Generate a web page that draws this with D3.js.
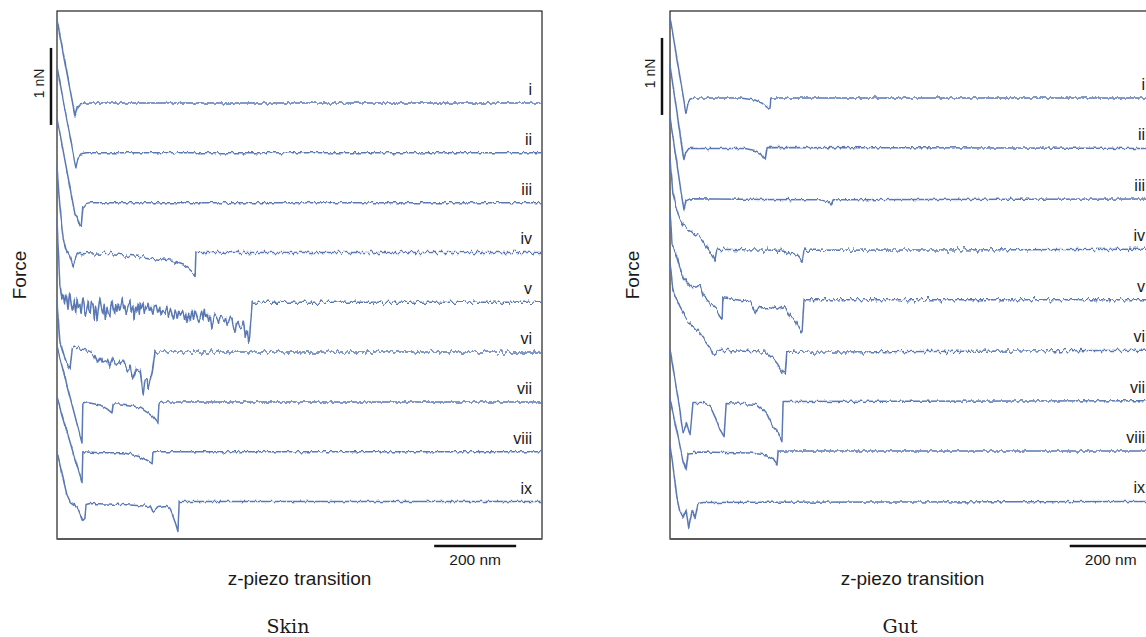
<!DOCTYPE html>
<html>
<head>
<meta charset="utf-8">
<script src="https://cdn.jsdelivr.net/npm/d3@7"></script>
<style>
  body { margin: 0; background: #fff; }
  svg { display: block; }
</style>
</head>
<body>
<svg id="chart" width="1146" height="637"></svg>
<script>
// Force-distance retraction curves, x in nm of z-piezo travel, force in pN
// relative to each curve's own zero-force baseline.
const traceLabels = ["i", "ii", "iii", "iv", "v", "vi", "vii", "viii", "ix"];
const panelTitles = ["Skin", "Gut"];
const xAxisLabel = "z-piezo transition";
const yAxisLabel = "Force";
const xScaleBar = { label: "200 nm", nm: 200 };
const yScaleBar = { label: "1 nN", pN: 1000 };

const skinTraces = [
  [[0,1079],[44,-169],[49,-65],[56,-13],[66,0],[1183,0]],
  [[0,1118],[46,-195],[51,-65],[59,-13],[71,0],[1183,0]],
  [[0,1105],[44,-156],[49,-182],[56,-299],[59,-312],[63,-65],[71,-13],[80,0],[1183,0]],
  [[0,1118],[7,598],[15,182],[22,39],[32,-65],[39,-182],[44,-117],[49,-26],[56,0],[129,-13],
   [203,-52],[283,-117],[312,-169],[332,-260],[337,-286],[339,0],[1183,0]],
  [[0,1066],[7,221],[12,65],[15,91],[18,-20],[21,104],[24,26],[27,-78],[30,65],[32,117],[35,-30],
   [39,-104],[42,13],[45,-156],[49,52],[52,-52],[56,-13],[59,-117],[63,52],[66,-26],[69,-182],
   [73,-52],[76,39],[78,-104],[81,-130],[84,0],[88,-39],[91,-195],[94,-65],[98,-234],[101,-91],
   [105,65],[108,-52],[112,-143],[115,-26],[118,-221],[122,-65],[125,-143],[129,-182],[131,-39],
   [134,26],[137,-91],[141,-169],[143,-52],[146,-130],[150,-13],[153,-117],[156,-65],[159,52],
   [162,-91],[166,-26],[169,-156],[171,-104],[174,-13],[178,26],[181,-117],[185,-39],[188,-208],
   [191,-78],[195,-130],[198,-26],[201,-156],[203,0],[206,-91],[210,-13],[213,-130],[217,-52],
   [222,0],[225,-104],[229,-65],[234,-143],[237,-39],[242,-26],[246,-130],[251,-65],[254,-169],
   [258,-91],[264,-143],[268,-52],[272,-182],[276,-78],[280,-143],[285,-234],[289,-117],
   [293,-195],[297,-91],[301,-169],[307,-104],[311,-221],[314,-143],[317,-260],[321,-156],
   [325,-234],[329,-130],[333,-208],[337,-104],[341,-182],[345,-247],[349,-195],[353,-130],
   [356,-221],[359,-91],[362,-182],[366,-143],[370,-247],[374,-169],[378,-338],[382,-221],
   [386,-156],[390,-195],[394,-273],[399,-182],[403,-208],[407,-260],[411,-195],[415,-299],
   [419,-247],[423,-182],[427,-208],[430,-299],[434,-390],[438,-273],[442,-234],[446,-312],
   [451,-325],[455,-260],[459,-455],[462,-390],[464,-338],[466,-429],[468,-520],[470,-442],
   [473,-234],[476,0],[1183,0]],
  [[0,676],[7,130],[15,0],[22,-130],[32,-208],[37,52],[46,65],[56,39],[73,26],[88,-13],[98,-143],
   [105,-65],[112,-130],[122,-104],[129,-195],[137,-78],[146,-169],[154,-130],[161,-104],
   [171,-234],[178,-169],[185,-325],[193,-208],[203,-234],[207,-429],[210,-533],[215,-338],
   [220,-325],[222,-494],[227,-364],[232,-260],[234,-195],[239,0],[1183,0]],
  [[0,715],[61,-533],[63,-26],[71,-13],[80,-13],[105,-39],[122,-91],[134,-143],[137,-26],[154,-26],
   [178,-39],[203,-78],[222,-143],[234,-195],[246,-273],[249,-13],[259,0],[1183,0]],
  [[0,702],[61,-403],[63,0],[105,-13],[161,-13],[203,-65],[222,-117],[232,-156],[234,0],[1183,0]],
  [[0,637],[24,91],[32,0],[49,-65],[56,-156],[63,-247],[68,-221],[71,-39],[80,-26],[161,-39],
   [227,-65],[234,-143],[242,-104],[246,-78],[268,-65],[276,-104],[283,-195],[290,-299],
   [295,-390],[298,0],[1183,0]]
];

const gutTraces = [
  [[0,1053],[39,-195],[44,-65],[49,-13],[59,0],[171,0],[207,-26],[224,-65],[239,-130],[244,-117],
   [246,0],[1183,0]],
  [[0,1079],[34,-156],[39,-52],[46,0],[183,0],[207,-26],[220,-65],[232,-156],[237,13],[1183,0]],
  [[0,1053],[34,-156],[39,-26],[49,0],[366,-13],[386,-39],[393,-78],[398,-13],[1183,0]],
  [[0,1170],[7,741],[15,546],[24,390],[32,325],[44,273],[54,221],[61,195],[73,156],[81,91],[90,13],
   [98,-39],[105,-91],[110,-156],[115,0],[268,-13],[293,-52],[310,-91],[322,-169],[327,-13],[1183,0]],
  [[0,1144],[5,741],[17,559],[24,429],[32,286],[41,234],[54,156],[66,169],[73,195],[81,39],[90,0],
   [102,-65],[115,-130],[122,-221],[127,-260],[129,26],[163,0],[195,-26],[212,-169],[220,-91],
   [244,-91],[268,-130],[281,-91],[293,-221],[305,-260],[317,-390],[322,-416],[327,0],[1183,0]],
  [[0,1144],[7,780],[17,650],[24,559],[41,390],[49,351],[61,286],[73,221],[85,130],[98,39],
   [105,-65],[115,-26],[122,0],[237,-26],[249,-91],[261,-169],[276,-299],[281,-325],[285,-26],
   [1183,0]],
  [[0,663],[20,13],[32,-416],[41,-286],[49,-442],[56,-26],[81,-26],[98,-65],[105,-156],[115,-273],
   [122,-377],[132,-468],[137,-26],[212,-52],[227,-117],[237,-182],[251,-338],[264,-416],
   [273,-533],[276,-13],[1183,0]],
  [[0,689],[32,-130],[39,-247],[44,-26],[73,-13],[195,-26],[237,-52],[249,-91],[261,-182],[264,0],
   [1183,0]],
  [[0,728],[12,273],[17,52],[24,-117],[32,-208],[39,-117],[46,-338],[54,-117],[61,-221],[68,-26],
   [81,-13],[1183,0]]
];

const svg = d3.select("#chart");
const lineColor = "#5a78b4";
const textColor = "#1a1a1a";
const sans = "'Liberation Sans', Arial, sans-serif";

// Fine trace noise: vertical-only displacement driven by fractal turbulence.
const defs = svg.append("defs");
function addJitter(id, scale, freq, seed) {
  const f = defs.append("filter").attr("id", id)
    .attr("filterUnits", "userSpaceOnUse")
    .attr("x", 0).attr("y", 0).attr("width", 1200).attr("height", 637)
    .attr("color-interpolation-filters", "sRGB");
  f.append("feTurbulence").attr("type", "fractalNoise").attr("baseFrequency", freq)
    .attr("numOctaves", 2).attr("seed", seed).attr("result", "n");
  f.append("feColorMatrix").attr("in", "n").attr("type", "matrix")
    .attr("values", "0 0 0 0 0.5  0 1 0 0 0  0 0 0 0 0  0 0 0 0 1").attr("result", "m");
  f.append("feDisplacementMap").attr("in", "SourceGraphic").attr("in2", "m")
    .attr("scale", scale).attr("xChannelSelector", "R").attr("yChannelSelector", "G");
}
addJitter("jitter", 5, "0.3 0.06", 4);
addJitter("jitterStrong", 9, "0.3 0.06", 9);

const panels = [
  { title: panelTitles[0], traces: skinTraces, left: 57, top: 11, bottom: 539, width: 485,
    base0: 103, spacing: 647, titleX: 288, yLabelX: 20,
    yBar: { x: 51, from: 715 }, xBarStart: 920,
    noise: ["jitter", "jitter", "jitter", "jitterStrong", "jitterStrong", "jitterStrong",
            "jitter", "jitter", "jitter"] },
  { title: panelTitles[1], traces: gutTraces, left: 670, top: 11, bottom: 539, width: 485,
    base0: 98, spacing: 655, titleX: 900, yLabelX: 633,
    yBar: { x: 662, from: 780 }, xBarStart: 975,
    noise: ["jitter", "jitter", "jitter", "jitterStrong", "jitterStrong", "jitterStrong",
            "jitter", "jitter", "jitter"] }
];

panels.forEach(p => {
  const x = d3.scaleLinear().domain([0, 1183]).range([p.left, p.left + p.width]);
  const y = d3.scaleLinear().domain([0, -1000]).range([p.base0, p.base0 + 77]);
  const line = d3.line().x(d => x(d[0])).y(d => y(d[1]));
  const g = svg.append("g");

  // frame
  g.append("rect").attr("x", p.left).attr("y", p.top)
    .attr("width", p.width).attr("height", p.bottom - p.top)
    .attr("fill", "none").attr("stroke", "#222").attr("stroke-width", 1.2);
  g.append("line").attr("x1", p.left).attr("x2", p.left + p.width)
    .attr("y1", p.bottom).attr("y2", p.bottom)
    .attr("stroke", "#5a5a5a").attr("stroke-width", 2);

  // stacked curves, each shifted down by its index
  p.traces.forEach((tr, k) => {
    const shifted = tr.map(([d, f]) => [d, f - k * p.spacing]);
    g.append("path").attr("d", line(shifted))
      .attr("fill", "none").attr("stroke", lineColor).attr("stroke-width", 1.5)
      .attr("stroke-linejoin", "round")
      .attr("filter", `url(#${p.noise[k]})`);
    g.append("text").attr("x", p.left + p.width - 10).attr("y", y(-k * p.spacing) - 8)
      .attr("text-anchor", "end").attr("font-family", sans).attr("font-size", 16)
      .attr("fill", textColor).text(traceLabels[k]);
  });

  // force scale bar
  g.append("line").attr("x1", p.yBar.x).attr("x2", p.yBar.x)
    .attr("y1", y(p.yBar.from)).attr("y2", y(p.yBar.from - yScaleBar.pN))
    .attr("stroke", "#111").attr("stroke-width", 2.5);
  const ymid = (y(p.yBar.from) + y(p.yBar.from - yScaleBar.pN)) / 2;
  g.append("text").attr("transform", `translate(${p.yBar.x - 7},${ymid - 3}) rotate(-90)`)
    .attr("text-anchor", "middle").attr("font-family", sans).attr("font-size", 14)
    .attr("fill", textColor).text(yScaleBar.label);

  // distance scale bar
  const xb0 = x(p.xBarStart), xb1 = x(p.xBarStart + xScaleBar.nm);
  g.append("line").attr("x1", xb0).attr("x2", xb1).attr("y1", 546).attr("y2", 546)
    .attr("stroke", "#111").attr("stroke-width", 2.5);
  g.append("text").attr("x", (xb0 + xb1) / 2).attr("y", 565)
    .attr("text-anchor", "middle").attr("font-family", sans).attr("font-size", 15.5)
    .attr("fill", textColor).text(xScaleBar.label);

  // axis titles
  g.append("text").attr("x", p.left + p.width / 2).attr("y", 585)
    .attr("text-anchor", "middle").attr("font-family", sans).attr("font-size", 19)
    .attr("fill", textColor).text(xAxisLabel);
  g.append("text").attr("transform", `translate(${p.yLabelX + 6},275) rotate(-90)`)
    .attr("text-anchor", "middle").attr("font-family", sans).attr("font-size", 19)
    .attr("fill", textColor).text(yAxisLabel);

  // panel caption
  g.append("text").attr("x", p.titleX).attr("y", 633)
    .attr("text-anchor", "middle").attr("font-family", "'DejaVu Serif', serif")
    .attr("font-size", 19).attr("fill", textColor).text(p.title);
});
</script>
</body>
</html>
